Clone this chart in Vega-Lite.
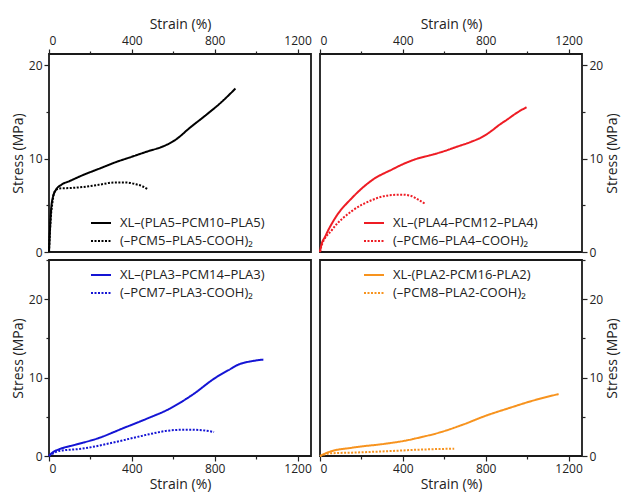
{
  "$schema": "https://vega.github.io/schema/vega-lite/v6.json",
  "padding": {"left": 10, "top": 16, "right": 0, "bottom": 2},
  "background": "white",
  "config": {
    "font": "Open Sans",
    "view": {"stroke": "#1a1a1a", "strokeWidth": 1.8},
    "axis": {"labelFont": "Open Sans", "titleFont": "Open Sans", "labelFontSize": 12, "titleFontSize": 14, "titleFontWeight": "normal", "labelColor": "#222", "titleColor": "#222", "tickColor": "#222", "tickWidth": 1.2, "domain": false, "grid": false, "labelPadding": 2, "titlePadding": 3, "format": "d"},
    "axisRight": {"titleAngle": 270, "titleBaseline": "top"},
    "legend": {"labelFont": "Open Sans", "labelFontSize": 13, "labelColor": "#222", "symbolType": "stroke", "symbolSize": 400, "symbolStrokeWidth": 2, "rowPadding": -2, "labelOffset": 8, "title": null}
  },
  "datasets": {
    "a": [
      {"series": "XL–(PLA5–PCM10–PLA5)", "strain": 0, "stress": 0},
      {"series": "XL–(PLA5–PCM10–PLA5)", "strain": 5, "stress": 2.5},
      {"series": "XL–(PLA5–PCM10–PLA5)", "strain": 10, "stress": 4.5},
      {"series": "XL–(PLA5–PCM10–PLA5)", "strain": 18, "stress": 5.8},
      {"series": "XL–(PLA5–PCM10–PLA5)", "strain": 32, "stress": 6.6},
      {"series": "XL–(PLA5–PCM10–PLA5)", "strain": 60, "stress": 7.2},
      {"series": "XL–(PLA5–PCM10–PLA5)", "strain": 100, "stress": 7.6},
      {"series": "XL–(PLA5–PCM10–PLA5)", "strain": 160, "stress": 8.2},
      {"series": "XL–(PLA5–PCM10–PLA5)", "strain": 240, "stress": 8.9},
      {"series": "XL–(PLA5–PCM10–PLA5)", "strain": 320, "stress": 9.6},
      {"series": "XL–(PLA5–PCM10–PLA5)", "strain": 400, "stress": 10.2},
      {"series": "XL–(PLA5–PCM10–PLA5)", "strain": 480, "stress": 10.8},
      {"series": "XL–(PLA5–PCM10–PLA5)", "strain": 550, "stress": 11.3},
      {"series": "XL–(PLA5–PCM10–PLA5)", "strain": 610, "stress": 12.0},
      {"series": "XL–(PLA5–PCM10–PLA5)", "strain": 680, "stress": 13.3},
      {"series": "XL–(PLA5–PCM10–PLA5)", "strain": 760, "stress": 14.7},
      {"series": "XL–(PLA5–PCM10–PLA5)", "strain": 830, "stress": 16.0},
      {"series": "XL–(PLA5–PCM10–PLA5)", "strain": 900, "stress": 17.5},
      {"series": "(–PCM5–PLA5-COOH)₂", "strain": 0, "stress": 0},
      {"series": "(–PCM5–PLA5-COOH)₂", "strain": 8, "stress": 3.5},
      {"series": "(–PCM5–PLA5-COOH)₂", "strain": 16, "stress": 5.2},
      {"series": "(–PCM5–PLA5-COOH)₂", "strain": 28, "stress": 6.5},
      {"series": "(–PCM5–PLA5-COOH)₂", "strain": 50, "stress": 6.8},
      {"series": "(–PCM5–PLA5-COOH)₂", "strain": 100, "stress": 6.85},
      {"series": "(–PCM5–PLA5-COOH)₂", "strain": 160, "stress": 6.95},
      {"series": "(–PCM5–PLA5-COOH)₂", "strain": 240, "stress": 7.2},
      {"series": "(–PCM5–PLA5-COOH)₂", "strain": 320, "stress": 7.45},
      {"series": "(–PCM5–PLA5-COOH)₂", "strain": 370, "stress": 7.45},
      {"series": "(–PCM5–PLA5-COOH)₂", "strain": 420, "stress": 7.25},
      {"series": "(–PCM5–PLA5-COOH)₂", "strain": 450, "stress": 7.05},
      {"series": "(–PCM5–PLA5-COOH)₂", "strain": 478, "stress": 6.7}
    ],
    "b": [
      {"series": "XL–(PLA4–PCM12–PLA4)", "strain": 0, "stress": 0},
      {"series": "XL–(PLA4–PCM12–PLA4)", "strain": 5, "stress": 0.6},
      {"series": "XL–(PLA4–PCM12–PLA4)", "strain": 26, "stress": 1.7},
      {"series": "XL–(PLA4–PCM12–PLA4)", "strain": 75, "stress": 3.7},
      {"series": "XL–(PLA4–PCM12–PLA4)", "strain": 155, "stress": 5.8},
      {"series": "XL–(PLA4–PCM12–PLA4)", "strain": 252, "stress": 7.7},
      {"series": "XL–(PLA4–PCM12–PLA4)", "strain": 349, "stress": 8.85},
      {"series": "XL–(PLA4–PCM12–PLA4)", "strain": 410, "stress": 9.5},
      {"series": "XL–(PLA4–PCM12–PLA4)", "strain": 470, "stress": 10.0},
      {"series": "XL–(PLA4–PCM12–PLA4)", "strain": 540, "stress": 10.4},
      {"series": "XL–(PLA4–PCM12–PLA4)", "strain": 600, "stress": 10.8},
      {"series": "XL–(PLA4–PCM12–PLA4)", "strain": 665, "stress": 11.3},
      {"series": "XL–(PLA4–PCM12–PLA4)", "strain": 730, "stress": 11.8},
      {"series": "XL–(PLA4–PCM12–PLA4)", "strain": 790, "stress": 12.4},
      {"series": "XL–(PLA4–PCM12–PLA4)", "strain": 830, "stress": 13.0},
      {"series": "XL–(PLA4–PCM12–PLA4)", "strain": 865, "stress": 13.6},
      {"series": "XL–(PLA4–PCM12–PLA4)", "strain": 905, "stress": 14.2},
      {"series": "XL–(PLA4–PCM12–PLA4)", "strain": 950, "stress": 14.9},
      {"series": "XL–(PLA4–PCM12–PLA4)", "strain": 997, "stress": 15.5},
      {"series": "(–PCM6–PLA4–COOH)₂", "strain": 0, "stress": 0},
      {"series": "(–PCM6–PLA4–COOH)₂", "strain": 5, "stress": 0.5},
      {"series": "(–PCM6–PLA4–COOH)₂", "strain": 59, "stress": 2.4},
      {"series": "(–PCM6–PLA4–COOH)₂", "strain": 155, "stress": 4.4},
      {"series": "(–PCM6–PLA4–COOH)₂", "strain": 252, "stress": 5.57},
      {"series": "(–PCM6–PLA4–COOH)₂", "strain": 333, "stress": 6.07},
      {"series": "(–PCM6–PLA4–COOH)₂", "strain": 397, "stress": 6.14},
      {"series": "(–PCM6–PLA4–COOH)₂", "strain": 440, "stress": 6.0},
      {"series": "(–PCM6–PLA4–COOH)₂", "strain": 475, "stress": 5.6},
      {"series": "(–PCM6–PLA4–COOH)₂", "strain": 511, "stress": 5.1}
    ],
    "c": [
      {"series": "XL–(PLA3–PCM14–PLA3)", "strain": 0, "stress": 0},
      {"series": "XL–(PLA3–PCM14–PLA3)", "strain": 20, "stress": 0.5},
      {"series": "XL–(PLA3–PCM14–PLA3)", "strain": 48, "stress": 0.85},
      {"series": "XL–(PLA3–PCM14–PLA3)", "strain": 129, "stress": 1.45},
      {"series": "XL–(PLA3–PCM14–PLA3)", "strain": 241, "stress": 2.3},
      {"series": "XL–(PLA3–PCM14–PLA3)", "strain": 354, "stress": 3.5},
      {"series": "XL–(PLA3–PCM14–PLA3)", "strain": 467, "stress": 4.7},
      {"series": "XL–(PLA3–PCM14–PLA3)", "strain": 580, "stress": 6.0},
      {"series": "XL–(PLA3–PCM14–PLA3)", "strain": 692, "stress": 7.8},
      {"series": "XL–(PLA3–PCM14–PLA3)", "strain": 805, "stress": 10.0},
      {"series": "XL–(PLA3–PCM14–PLA3)", "strain": 870, "stress": 11.0},
      {"series": "XL–(PLA3–PCM14–PLA3)", "strain": 918, "stress": 11.7},
      {"series": "XL–(PLA3–PCM14–PLA3)", "strain": 980, "stress": 12.1},
      {"series": "XL–(PLA3–PCM14–PLA3)", "strain": 1035, "stress": 12.3},
      {"series": "(–PCM7–PLA3-COOH)₂", "strain": 0, "stress": 0},
      {"series": "(–PCM7–PLA3-COOH)₂", "strain": 48, "stress": 0.64},
      {"series": "(–PCM7–PLA3-COOH)₂", "strain": 161, "stress": 0.94},
      {"series": "(–PCM7–PLA3-COOH)₂", "strain": 322, "stress": 1.79},
      {"series": "(–PCM7–PLA3-COOH)₂", "strain": 483, "stress": 2.77},
      {"series": "(–PCM7–PLA3-COOH)₂", "strain": 563, "stress": 3.19},
      {"series": "(–PCM7–PLA3-COOH)₂", "strain": 640, "stress": 3.35},
      {"series": "(–PCM7–PLA3-COOH)₂", "strain": 676, "stress": 3.36},
      {"series": "(–PCM7–PLA3-COOH)₂", "strain": 740, "stress": 3.28},
      {"series": "(–PCM7–PLA3-COOH)₂", "strain": 797, "stress": 3.06}
    ],
    "d": [
      {"series": "XL-(PLA2-PCM16-PLA2)", "strain": 0, "stress": 0},
      {"series": "XL-(PLA2-PCM16-PLA2)", "strain": 42, "stress": 0.5},
      {"series": "XL-(PLA2-PCM16-PLA2)", "strain": 155, "stress": 1.06},
      {"series": "XL-(PLA2-PCM16-PLA2)", "strain": 317, "stress": 1.57},
      {"series": "XL-(PLA2-PCM16-PLA2)", "strain": 420, "stress": 2.0},
      {"series": "XL-(PLA2-PCM16-PLA2)", "strain": 478, "stress": 2.34},
      {"series": "XL-(PLA2-PCM16-PLA2)", "strain": 575, "stress": 2.98},
      {"series": "XL-(PLA2-PCM16-PLA2)", "strain": 690, "stress": 4.0},
      {"series": "XL-(PLA2-PCM16-PLA2)", "strain": 802, "stress": 5.15},
      {"series": "XL-(PLA2-PCM16-PLA2)", "strain": 915, "stress": 6.13},
      {"series": "XL-(PLA2-PCM16-PLA2)", "strain": 1028, "stress": 7.06},
      {"series": "XL-(PLA2-PCM16-PLA2)", "strain": 1152, "stress": 7.9},
      {"series": "(–PCM8–PLA2-COOH)₂", "strain": 0, "stress": 0},
      {"series": "(–PCM8–PLA2-COOH)₂", "strain": 49, "stress": 0.34},
      {"series": "(–PCM8–PLA2-COOH)₂", "strain": 155, "stress": 0.43},
      {"series": "(–PCM8–PLA2-COOH)₂", "strain": 317, "stress": 0.6},
      {"series": "(–PCM8–PLA2-COOH)₂", "strain": 478, "stress": 0.81},
      {"series": "(–PCM8–PLA2-COOH)₂", "strain": 648, "stress": 0.94}
    ]
  },
  "columns": 2,
  "spacing": {"row": 8, "column": 9},
  "bounds": "flush",
  "resolve": {"scale": {"color": "independent", "strokeDash": "independent", "x": "independent", "y": "independent"}},
  "concat": [
    {
      "width": 262, "height": 198,
      "data": {"name": "a"},
      "mark": {"type": "line", "strokeWidth": 2, "interpolate": "monotone"},
      "encoding": {
        "x": {"field": "strain", "type": "quantitative", "scale": {"domain": [0, 1265], "nice": false, "zero": false},
          "axis": {"orient": "top", "title": "Strain (%)", "values": [0, 200, 400, 600, 800, 1000, 1200], "labelExpr": "datum.value % 400 === 0 ? datum.label : ''", "tickSize": {"condition": {"test": "datum.value % 400 !== 0", "value": 3}, "value": 5}}},
        "y": {"field": "stress", "type": "quantitative", "scale": {"domain": [0, 21.2], "nice": false},
          "axis": {"orient": "left", "title": "Stress (MPa)", "values": [0, 5, 10, 15, 20], "labelExpr": "datum.value % 10 === 0 ? datum.label : ''", "tickSize": {"condition": {"test": "datum.value % 10 !== 0", "value": 3}, "value": 5}}},
        "color": {"field": "series", "type": "nominal", "scale": {"domain": ["XL–(PLA5–PCM10–PLA5)", "(–PCM5–PLA5-COOH)₂"], "range": ["#000000", "#000000"]},
          "legend": {"orient": "none", "legendX": 41, "legendY": 158}},
        "strokeDash": {"field": "series", "type": "nominal", "scale": {"domain": ["XL–(PLA5–PCM10–PLA5)", "(–PCM5–PLA5-COOH)₂"], "range": [[1, 0], [2, 1.5]]},
          "legend": {"orient": "none", "legendX": 41, "legendY": 158}}
      }
    },
    {
      "width": 262, "height": 198,
      "data": {"name": "b"},
      "mark": {"type": "line", "strokeWidth": 2, "interpolate": "monotone"},
      "encoding": {
        "x": {"field": "strain", "type": "quantitative", "scale": {"domain": [0, 1265], "nice": false, "zero": false},
          "axis": {"orient": "top", "title": "Strain (%)", "values": [0, 200, 400, 600, 800, 1000, 1200], "labelExpr": "datum.value % 400 === 0 ? datum.label : ''", "tickSize": {"condition": {"test": "datum.value % 400 !== 0", "value": 3}, "value": 5}}},
        "y": {"field": "stress", "type": "quantitative", "scale": {"domain": [0, 21.2], "nice": false},
          "axis": {"orient": "right", "title": "Stress (MPa)", "values": [0, 5, 10, 15, 20], "labelExpr": "datum.value % 10 === 0 ? datum.label : ''", "tickSize": {"condition": {"test": "datum.value % 10 !== 0", "value": 3}, "value": 5}}},
        "color": {"field": "series", "type": "nominal", "scale": {"domain": ["XL–(PLA4–PCM12–PLA4)", "(–PCM6–PLA4–COOH)₂"], "range": ["#ee1c24", "#ee1c24"]},
          "legend": {"orient": "none", "legendX": 43, "legendY": 158}},
        "strokeDash": {"field": "series", "type": "nominal", "scale": {"domain": ["XL–(PLA4–PCM12–PLA4)", "(–PCM6–PLA4–COOH)₂"], "range": [[1, 0], [2, 1.5]]},
          "legend": {"orient": "none", "legendX": 43, "legendY": 158}}
      }
    },
    {
      "width": 262, "height": 196,
      "data": {"name": "c"},
      "mark": {"type": "line", "strokeWidth": 2, "interpolate": "monotone"},
      "encoding": {
        "x": {"field": "strain", "type": "quantitative", "scale": {"domain": [0, 1265], "nice": false, "zero": false},
          "axis": {"orient": "bottom", "title": "Strain (%)", "values": [0, 200, 400, 600, 800, 1000, 1200], "labelExpr": "datum.value % 400 === 0 ? datum.label : ''", "tickSize": {"condition": {"test": "datum.value % 400 !== 0", "value": 3}, "value": 5}}},
        "y": {"field": "stress", "type": "quantitative", "scale": {"domain": [0, 25], "nice": false},
          "axis": {"orient": "left", "title": "Stress (MPa)", "values": [0, 5, 10, 15, 20, 25], "labelExpr": "datum.value % 10 === 0 ? datum.label : ''", "tickSize": {"condition": {"test": "datum.value % 10 !== 0", "value": 3}, "value": 5}}},
        "color": {"field": "series", "type": "nominal", "scale": {"domain": ["XL–(PLA3–PCM14–PLA3)", "(–PCM7–PLA3-COOH)₂"], "range": ["#1414d4", "#1414d4"]},
          "legend": {"orient": "none", "legendX": 41, "legendY": 4}},
        "strokeDash": {"field": "series", "type": "nominal", "scale": {"domain": ["XL–(PLA3–PCM14–PLA3)", "(–PCM7–PLA3-COOH)₂"], "range": [[1, 0], [2, 1.5]]},
          "legend": {"orient": "none", "legendX": 41, "legendY": 4}}
      }
    },
    {
      "width": 262, "height": 196,
      "data": {"name": "d"},
      "mark": {"type": "line", "strokeWidth": 2, "interpolate": "monotone"},
      "encoding": {
        "x": {"field": "strain", "type": "quantitative", "scale": {"domain": [0, 1265], "nice": false, "zero": false},
          "axis": {"orient": "bottom", "title": "Strain (%)", "values": [0, 200, 400, 600, 800, 1000, 1200], "labelExpr": "datum.value % 400 === 0 ? datum.label : ''", "tickSize": {"condition": {"test": "datum.value % 400 !== 0", "value": 3}, "value": 5}}},
        "y": {"field": "stress", "type": "quantitative", "scale": {"domain": [0, 25], "nice": false},
          "axis": {"orient": "right", "title": "Stress (MPa)", "values": [0, 5, 10, 15, 20, 25], "labelExpr": "datum.value % 10 === 0 ? datum.label : ''", "tickSize": {"condition": {"test": "datum.value % 10 !== 0", "value": 3}, "value": 5}}},
        "color": {"field": "series", "type": "nominal", "scale": {"domain": ["XL-(PLA2-PCM16-PLA2)", "(–PCM8–PLA2-COOH)₂"], "range": ["#f7931e", "#f7931e"]},
          "legend": {"orient": "none", "legendX": 43, "legendY": 4}},
        "strokeDash": {"field": "series", "type": "nominal", "scale": {"domain": ["XL-(PLA2-PCM16-PLA2)", "(–PCM8–PLA2-COOH)₂"], "range": [[1, 0], [2, 1.5]]},
          "legend": {"orient": "none", "legendX": 43, "legendY": 4}}
      }
    }
  ]
}
